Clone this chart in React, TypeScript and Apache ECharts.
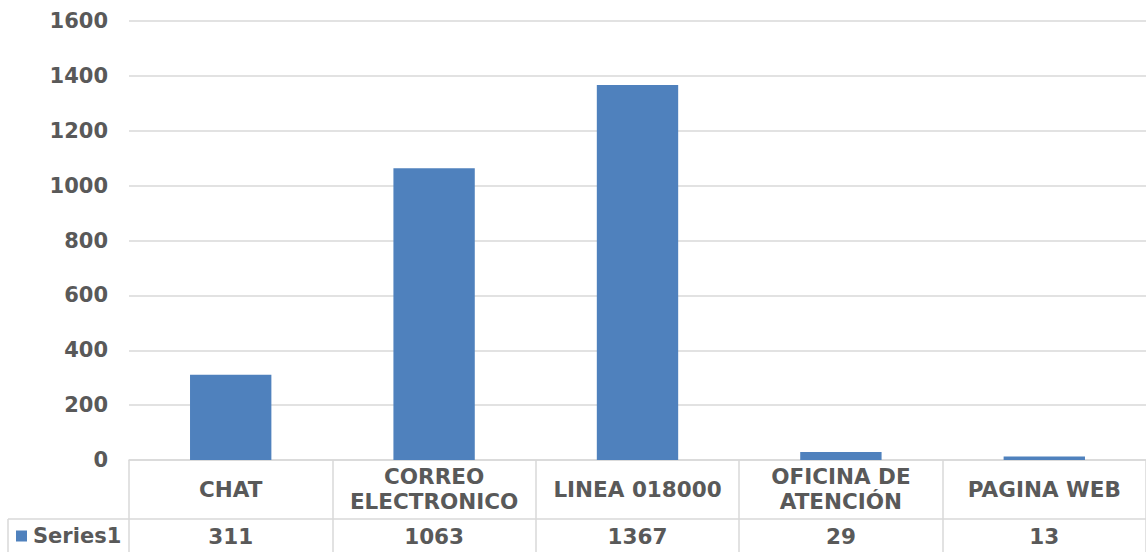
import React, { useEffect, useRef } from "react";
import * as echarts from "echarts";

const categories = ["CHAT", "CORREO\nELECTRONICO", "LINEA 018000", "OFICINA DE\nATENCIÓN", "PAGINA WEB"];
const seriesName = "Series1";
const values = [311, 1063, 1367, 29, 13];
const yTicks = { min: 0, max: 1600, interval: 200 };

const TEXT = "#595959";
const LINE = "#d9d9d9";
const BAR = "#4f81bd";
const FONT = "'DejaVu Sans', Verdana, sans-serif";

export default function App() {
  const ref = useRef<HTMLDivElement>(null);
  useEffect(() => {
    if (!ref.current) return;
    const chart = echarts.init(ref.current, undefined, { renderer: "svg" });
    chart.setOption({
      animation: false,
      textStyle: { fontFamily: FONT },
      grid: { left: 129, right: 0, top: 21, bottom: 92, containLabel: false },
      legend: {
        data: [seriesName],
        left: 16,
        top: 524,
        icon: "rect",
        itemWidth: 11,
        itemHeight: 11,
        itemGap: 0,
        padding: 0,
        textStyle: { color: TEXT, fontWeight: "bold", fontSize: 21, lineHeight: 24, fontFamily: FONT, padding: [0, 0, 0, 1] },
      },
      xAxis: [
        {
          type: "category",
          data: categories,
          position: "bottom",
          axisLine: { show: true, lineStyle: { color: LINE, width: 1.5 } },
          axisTick: { show: true, length: 92, interval: 0, lineStyle: { color: LINE, width: 1.5 } },
          axisLabel: {
            interval: 0,
            margin: 29,
            verticalAlign: "middle",
            color: TEXT,
            fontWeight: "bold",
            fontSize: 21.5,
            lineHeight: 25,
            fontFamily: FONT,
          },
        },
        {
          type: "category",
          data: values.map(String),
          position: "bottom",
          axisLine: { show: false },
          axisTick: { show: false },
          axisLabel: {
            interval: 0,
            margin: 76,
            verticalAlign: "middle",
            color: TEXT,
            fontWeight: "bold",
            fontSize: 21.5,
            fontFamily: FONT,
          },
        },
      ],
      yAxis: {
        type: "value",
        min: yTicks.min,
        max: yTicks.max,
        interval: yTicks.interval,
        axisLine: { show: false },
        axisTick: { show: false },
        splitLine: { lineStyle: { color: LINE, width: 1.5 } },
        axisLabel: {
          color: TEXT,
          fontWeight: "bold",
          fontSize: 21,
          margin: 21,
          fontFamily: FONT,
          formatter: (v: number) => String(v),
        },
      },
      series: [
        {
          name: seriesName,
          type: "bar",
          data: values,
          xAxisIndex: 0,
          barWidth: "40%",
          itemStyle: { color: BAR },
        },
      ],
      graphic: [
        { type: "line", shape: { x1: 8, y1: 519, x2: 1146, y2: 519 }, style: { stroke: LINE, lineWidth: 1.5 } },
        { type: "line", shape: { x1: 8, y1: 519, x2: 8, y2: 552 }, style: { stroke: LINE, lineWidth: 1.5 } },
      ],
    });
    return () => chart.dispose();
  }, []);
  return <div ref={ref} style={{ position: "absolute", left: 0, top: 0, width: 1146, height: 552 }} />;
}
